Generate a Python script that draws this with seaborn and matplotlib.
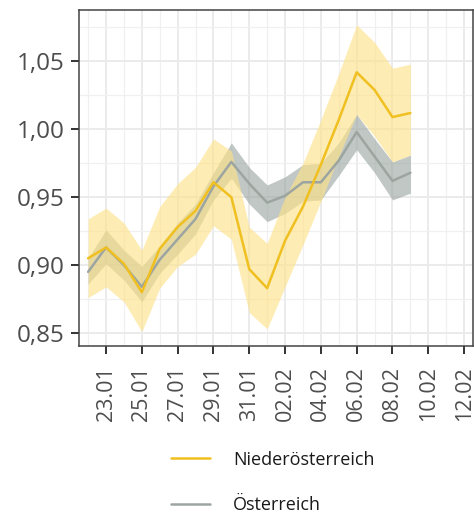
import pandas as pd
import numpy as np
import matplotlib
matplotlib.use("Agg")
import matplotlib.pyplot as plt
import matplotlib.dates as mdates
from matplotlib.ticker import FuncFormatter, MultipleLocator
from matplotlib.lines import Line2D
import seaborn as sns

# Werte (22.01. bis 09.02.)
dates = pd.date_range("2021-01-22", "2021-02-09", freq="D")

noe_mean = [0.905, 0.913, 0.901, 0.880, 0.912, 0.928, 0.940, 0.961, 0.950, 0.897,
            0.883, 0.918, 0.943, 0.974, 1.007, 1.042, 1.029, 1.009, 1.012]
noe_upper = [0.934, 0.942, 0.931, 0.911, 0.943, 0.960, 0.972, 0.993, 0.984, 0.928,
             0.916, 0.950, 0.975, 1.007, 1.041, 1.077, 1.064, 1.045, 1.048]
noe_lower = [0.876, 0.884, 0.873, 0.851, 0.883, 0.899, 0.908, 0.929, 0.919, 0.865,
             0.853, 0.884, 0.915, 0.947, 0.980, 1.011, 0.995, 0.976, 0.981]

at_mean = [0.895, 0.913, 0.900, 0.884, 0.904, 0.919, 0.934, 0.958, 0.976, 0.960,
           0.946, 0.951, 0.961, 0.961, 0.977, 0.998, 0.980, 0.962, 0.968]
at_upper = [0.905, 0.926, 0.911, 0.899, 0.914, 0.931, 0.945, 0.968, 0.990, 0.972,
            0.959, 0.965, 0.974, 0.975, 0.990, 1.011, 0.993, 0.976, 0.981]
at_lower = [0.886, 0.901, 0.889, 0.873, 0.894, 0.908, 0.923, 0.948, 0.964, 0.945,
            0.932, 0.938, 0.947, 0.948, 0.966, 0.985, 0.968, 0.948, 0.953]

regions = ["Niederösterreich", "Österreich"]
line_colors = {"Niederösterreich": "#F0C020", "Österreich": "#9DA5A1"}
band_colors = {"Niederösterreich": "#FDE28A", "Österreich": "#97A39D"}

df = pd.concat([
    pd.DataFrame({"datum": dates, "wert": noe_mean, "lo": noe_lower, "hi": noe_upper,
                  "region": regions[0]}),
    pd.DataFrame({"datum": dates, "wert": at_mean, "lo": at_lower, "hi": at_upper,
                  "region": regions[1]}),
])

sns.set_style("white")
plt.rcParams["font.family"] = ["Open Sans", "DejaVu Sans"]

fig = plt.figure(figsize=(4.74, 5.17), dpi=100)
ax = fig.add_axes([0.167, 0.331, 0.831, 0.650])

# Konfidenzbaender
for reg, alpha in [("Österreich", 0.6), ("Niederösterreich", 0.65)]:
    sub = df[df["region"] == reg]
    ax.fill_between(sub["datum"], sub["lo"], sub["hi"], color=band_colors[reg],
                    alpha=alpha, linewidth=0, zorder=2)

sns.lineplot(data=df, x="datum", y="wert", hue="region", hue_order=["Österreich", "Niederösterreich"],
             palette=line_colors, linewidth=1.8, ax=ax, zorder=3, legend=False)

ax.set_xlim(pd.Timestamp("2021-01-21 12:00"), pd.Timestamp("2021-02-12 12:00"))
ax.set_ylim(0.8405, 1.088)

ax.set_xticks(pd.date_range("2021-01-23", "2021-02-12", freq="2D"))
ax.set_xticks(pd.date_range("2021-01-22", "2021-02-12", freq="D"), minor=True)
ax.xaxis.set_major_formatter(mdates.DateFormatter("%d.%m"))
ax.yaxis.set_major_locator(MultipleLocator(0.05))
ax.yaxis.set_minor_locator(MultipleLocator(0.025))
ax.yaxis.set_major_formatter(FuncFormatter(lambda v, p: f"{v:.2f}".replace(".", ",")))

ax.grid(True, which="major", color="#EBEBEB", linewidth=1.4, zorder=0)
ax.grid(True, which="minor", color="#F0F0F0", linewidth=0.9, zorder=0)
ax.set_axisbelow(True)

ax.tick_params(axis="both", which="major", direction="out", length=5.5, width=1.4,
               color="#333333", labelcolor="#4D4D4D", bottom=True, left=True)
ax.tick_params(axis="y", labelsize=17.5, pad=5)
ax.tick_params(axis="x", labelsize=15.5, rotation=90, pad=9)
ax.tick_params(axis="both", which="minor", length=0)
for s in ax.spines.values():
    s.set_color("#444444")
    s.set_linewidth(1.1)

ax.set_xlabel("")
ax.set_ylabel("")

handles = [Line2D([], [], color=line_colors[r], linewidth=1.8) for r in regions]
fig.legend(handles, regions, loc="center", bbox_to_anchor=(0.575, 0.067), frameon=False,
           fontsize=13, handlelength=2.2, handletextpad=1.25, labelspacing=1.5,
           labelcolor="#1A1A1A")

fig.savefig("out.png", dpi=100)
